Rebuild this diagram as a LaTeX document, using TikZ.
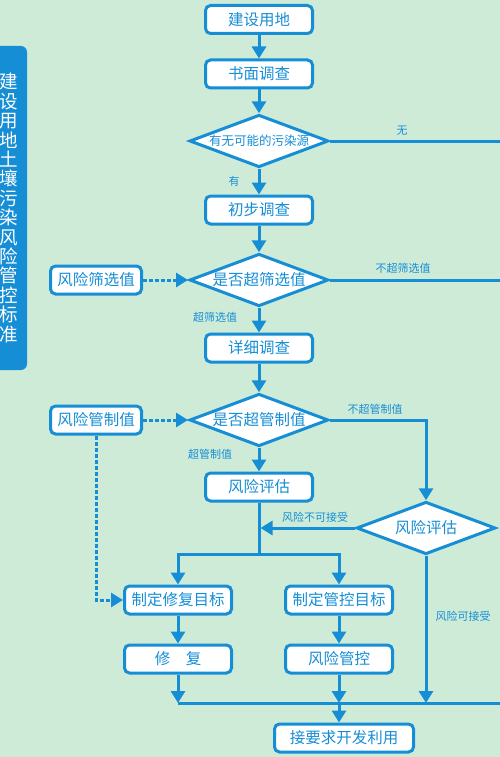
\documentclass[tikz,border=0pt]{standalone}
\usepackage{fontspec}
\setmainfont{Noto Sans CJK SC}
\usetikzlibrary{shapes.geometric,arrows.meta}
\definecolor{bg}{RGB}{206,235,216}
\definecolor{bl}{RGB}{22,142,214}
\begin{document}
\begin{tikzpicture}[x=1pt,y=-1pt,
  box/.style={draw=bl,fill=white,line width=3pt,rounded corners=5pt,minimum width=107pt,minimum height=28pt,inner sep=0pt,text=bl,font=\fontsize{15.5pt}{15.5pt}\selectfont},
  sbox/.style={box,minimum width=91pt},
  wbox/.style={box,minimum width=139pt},
  dia/.style={diamond,aspect=2.64,draw=bl,fill=white,line width=3pt,minimum width=139pt,minimum height=52.5pt,inner sep=0pt,text=bl,font=\fontsize{15.5pt}{15.5pt}\selectfont},
  conn/.style={draw=bl,line width=3pt},
  dconn/.style={conn,dash pattern=on 4pt off 2pt},
  lab/.style={text=bl,inner sep=0pt,font=\fontsize{11pt}{11pt}\selectfont},
  >={Triangle[width=14pt,length=12pt]}]
\useasboundingbox (0,0) rectangle (500,757);
\fill[bg] (0,0) rectangle (500,757);
% banner
\node[fill=bl,rounded corners=6pt,minimum width=37pt,minimum height=324pt,inner sep=0pt,text=white,align=center,font=\fontsize{18.5pt}{19.4pt}\selectfont] (banner) at (8.5,208)
 {建\\设\\用\\地\\土\\壤\\污\\染\\风\\险\\管\\控\\标\\准};
% main column
\node[box] (b1) at (259,19.5) {建设用地};
\node[box] (b2) at (259,74) {书面调查};
\node[dia,font=\fontsize{12.5pt}{12.5pt}\selectfont] (d1) at (259,141) {有无可能的污染源};
\node[box] (b3) at (259,210) {初步调查};
\node[dia] (d2) at (259,280) {是否超筛选值};
\node[box] (b4) at (259,348) {详细调查};
\node[dia] (d3) at (259,420) {是否超管制值};
\node[box] (b5) at (259,487) {风险评估};
\node[dia] (d4) at (426,528) {风险评估};
\node[sbox] (s1) at (96,280) {风险筛选值};
\node[sbox] (s2) at (96,420) {风险管制值};
\node[box] (r1) at (178,600) {制定修复目标};
\node[box] (r2) at (178,659) {修\quad 复};
\node[box] (c1) at (339,600) {制定管控目标};
\node[box] (c2) at (339,659) {风险管控};
\node[wbox] (e) at (344,738) {接要求开发利用};
% coordinates
\coordinate (rt1) at (500,141);
\coordinate (rt2) at (500,280);
\coordinate (j1) at (260.5,528);
\coordinate (sp) at (259,554);
\coordinate (m1) at (178,703);
\coordinate (m2) at (339,703);
\coordinate (m3) at (426,703);
\coordinate (mr) at (500,703);
% connectors
\draw[conn,->] (b1) -- (b2);
\draw[conn,->] (b2) -- (d1);
\draw[conn,->] (d1) -- (b3);
\draw[conn,->] (b3) -- (d2);
\draw[conn,->] (d2) -- (b4);
\draw[conn,->] (b4) -- (d3);
\draw[conn,->] (d3) -- (b5);
\draw[conn] (d1.east) -- (rt1);
\draw[conn] (d2.east) -- (rt2);
\draw[dconn,->] (s1.east) -- (d2.west);
\draw[dconn,->] (s2.east) -- (d3.west);
\draw[dconn,->] (s2.south) |- (r1.west);
\draw[conn,->] (d3.east) -| (d4.north);
\draw[conn,->] (d4.west) -- (j1);
\draw[conn] (b5.south) -- (sp);
\draw[conn,->] (sp) -| (r1.north);
\draw[conn,->] (sp) -| (c1.north);
\draw[conn,->] (r1) -- (r2);
\draw[conn,->] (c1) -- (c2);
\draw[conn] (m1) -- (mr);
\draw[conn,->] (r2.south) -- (m1);
\draw[conn,->] (c2.south) -- (m2);
\draw[conn,->] (d4.south) -- (m3);
\draw[conn,->] (m2) -- (m2 |- e.north);
% labels
\node[lab] (l1) at (234,181) {有};
\node[lab] (l2) at (402,131) {无};
\node[lab] (l3) at (215,317) {超筛选值};
\node[lab] (l4) at (403,268) {不超筛选值};
\node[lab] (l5) at (210,454) {超管制值};
\node[lab] (l6) at (375,409) {不超管制值};
\node[lab] (l7) at (315,517) {风险不可接受};
\node[lab] (l8) at (463,616) {风险可接受};
\end{tikzpicture}
\end{document}
